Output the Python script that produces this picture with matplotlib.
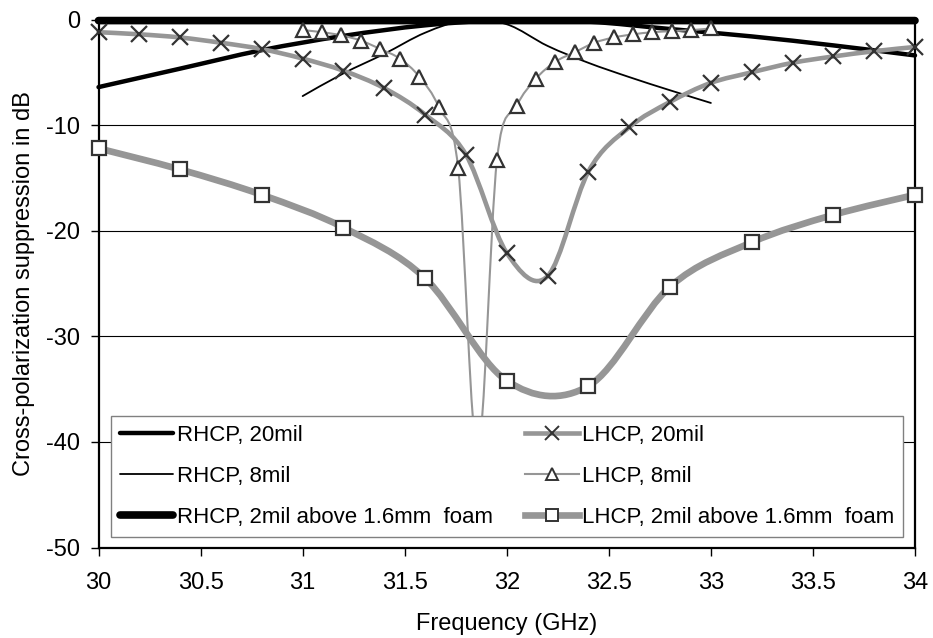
import numpy as np
import matplotlib
matplotlib.use("Agg")
import matplotlib.pyplot as plt
from matplotlib.path import Path
from matplotlib.patches import PathPatch
from matplotlib.lines import Line2D

plt.rcParams['font.family'] = ['Liberation Sans', 'DejaVu Sans']
plt.rcParams['axes.unicode_minus'] = False

# ---------------- data ----------------
rhcp20_x = [30.0, 30.4, 30.8, 31.2, 31.6, 32.0, 32.4, 32.8, 33.2, 33.6, 34.0]
rhcp20_y = [-6.4, -4.65, -2.9, -1.55, -0.55, -0.05, -0.2, -0.9, -1.6, -2.45, -3.4]

rhcp8_x = [31.0, 31.2, 31.4, 31.6, 31.8, 32.0, 32.2, 32.4, 32.6, 32.8, 33.0]
rhcp8_y = [-7.25, -5.1, -3.25, -1.25, -0.05, -0.45, -2.5, -4.1, -5.45, -6.7, -7.9]

rhcpfoam_x = [30.0, 30.4, 30.8, 31.2, 31.6, 32.0, 32.4, 32.8, 33.2, 33.6, 34.0]
rhcpfoam_y = [-0.1, -0.1, -0.1, -0.1, -0.1, -0.1, -0.1, -0.1, -0.1, -0.1, -0.1]

lhcp20_x = [30.0, 30.2, 30.4, 30.6, 30.8, 31.0, 31.2, 31.4, 31.6, 31.8, 32.0,
            32.2, 32.4, 32.6, 32.8, 33.0, 33.2, 33.4, 33.6, 33.8, 34.0]
lhcp20_y = [-1.2, -1.4, -1.7, -2.2, -2.8, -3.7, -4.85, -6.5, -9.0, -12.8, -22.1,
            -24.3, -14.4, -10.2, -7.8, -6.0, -5.0, -4.1, -3.5, -3.0, -2.6]

lhcp8_x = [31.0, 31.095, 31.19, 31.286, 31.381, 31.476, 31.571, 31.667, 31.762,
           31.857, 31.952, 32.048, 32.143, 32.238, 32.333, 32.429, 32.524,
           32.619, 32.714, 32.81, 32.905, 33.0]
lhcp8_y = [-1.0, -1.2, -1.5, -2.0, -2.8, -3.7, -5.4, -8.3, -14.1,
           -41.0, -13.3, -8.2, -5.6, -4.0, -3.1, -2.2, -1.7,
           -1.4, -1.2, -1.1, -1.0, -0.85]

lhcpfoam_x = [30.0, 30.4, 30.8, 31.2, 31.6, 32.0, 32.4, 32.8, 33.2, 33.6, 34.0]
lhcpfoam_y = [-12.2, -14.2, -16.6, -19.7, -24.5, -34.2, -34.7, -25.3, -21.1, -18.5, -16.6]

labels = ["RHCP, 20mil", "RHCP, 8mil", "RHCP, 2mil above 1.6mm  foam",
          "LHCP, 20mil", "LHCP, 8mil", "LHCP, 2mil above 1.6mm  foam"]

x_ticks = [30, 30.5, 31, 31.5, 32, 32.5, 33, 33.5, 34]
x_tick_labels = ["30", "30.5", "31", "31.5", "32", "32.5", "33", "33.5", "34"]
y_ticks = [0, -10, -20, -30, -40, -50]
y_tick_labels = ["0", "-10", "-20", "-30", "-40", "-50"]

# ---------------- helpers ----------------
def smooth_path(x, y):
    """Excel-like smoothed line: Catmull-Rom Bezier through data points."""
    pts = np.column_stack([x, y]).astype(float)
    n = len(pts)
    verts = [pts[0]]
    codes = [Path.MOVETO]
    for i in range(n - 1):
        p0 = pts[i - 1] if i > 0 else pts[i]
        p1 = pts[i]
        p2 = pts[i + 1]
        p3 = pts[i + 2] if i + 2 < n else pts[i + 1]
        c1 = p1 + (p2 - p0) / 6.0
        c2 = p2 - (p3 - p1) / 6.0
        verts += [c1, c2, p2]
        codes += [Path.CURVE4] * 3
    return Path(verts, codes)

GRAY = "#969696"
MARK = "#333333"

fig = plt.figure(figsize=(9.33, 6.38), dpi=100)
fig.patch.set_facecolor("white")
ax = fig.add_axes([0.1056, 0.1418, 0.8751, 0.8276])

series = [
    (rhcp20_x, rhcp20_y, "black", 3.2, None, 0),
    (rhcp8_x, rhcp8_y, "black", 1.3, None, 0),
    (rhcpfoam_x, rhcpfoam_y, "black", 5.5, None, 0),
    (lhcp20_x, lhcp20_y, GRAY, 3.3, "x", 12),
    (lhcp8_x, lhcp8_y, GRAY, 1.5, "^", 10.5),
    (lhcpfoam_x, lhcpfoam_y, GRAY, 4.8, "s", 10.5),
]

handles = []
for k, (xs, ys, col, lw, mk, ms) in enumerate(series):
    patch = PathPatch(smooth_path(xs, ys), transform=ax.transData, fill=False,
                      edgecolor=col, linewidth=lw, capstyle="round",
                      joinstyle="round", zorder=2 + k * 0.1, clip_on=False)
    ax.add_patch(patch)
    if mk is not None:
        ax.plot(xs, ys, linestyle="none", marker=mk, markersize=ms,
                markeredgecolor=MARK, markerfacecolor="white" if mk != "x" else MARK,
                markeredgewidth=1.6, zorder=3 + k * 0.1, clip_on=False)
        h = Line2D([], [], color=col, lw=lw, marker=mk, markersize=ms * 0.85,
                   markeredgecolor=MARK,
                   markerfacecolor="white" if mk != "x" else MARK,
                   markeredgewidth=1.4)
    else:
        h = Line2D([], [], color=col, lw=lw, solid_capstyle="round")
    handles.append(h)

ax.set_xlim(30, 34)
ax.set_ylim(-50, 0)
ax.set_xticks(x_ticks)
ax.set_xticklabels(x_tick_labels)
ax.set_yticks(y_ticks)
ax.set_yticklabels(y_tick_labels)
ax.tick_params(axis="both", direction="out", length=5.5, width=1.0,
               labelsize=17, color="black")
ax.tick_params(axis="x", pad=12)
ax.tick_params(axis="y", pad=7.5)

ax.yaxis.grid(True, color="black", linewidth=0.8)
ax.set_axisbelow(True)
for s in ax.spines.values():
    s.set_linewidth(1.6)
    s.set_color("black")

ax.set_xlabel("Frequency (GHz)", fontsize=17, labelpad=14)
ax.set_ylabel("Cross-polarization suppression in dB", fontsize=17, labelpad=8)

leg = ax.legend(handles, labels, ncol=2, loc="lower left",
                bbox_to_anchor=(0.0153, 0.0199, 0.97, 0.233), mode="expand",
                borderaxespad=0, frameon=True, fancybox=False,
                edgecolor="#808080", framealpha=1, fontsize=16,
                handlelength=2.4, handletextpad=0.15, labelspacing=0.9,
                borderpad=0.4, numpoints=1)
leg.get_frame().set_linewidth(1.0)
leg.set_zorder(10)

fig.savefig("out.png", dpi=100, facecolor="white")
